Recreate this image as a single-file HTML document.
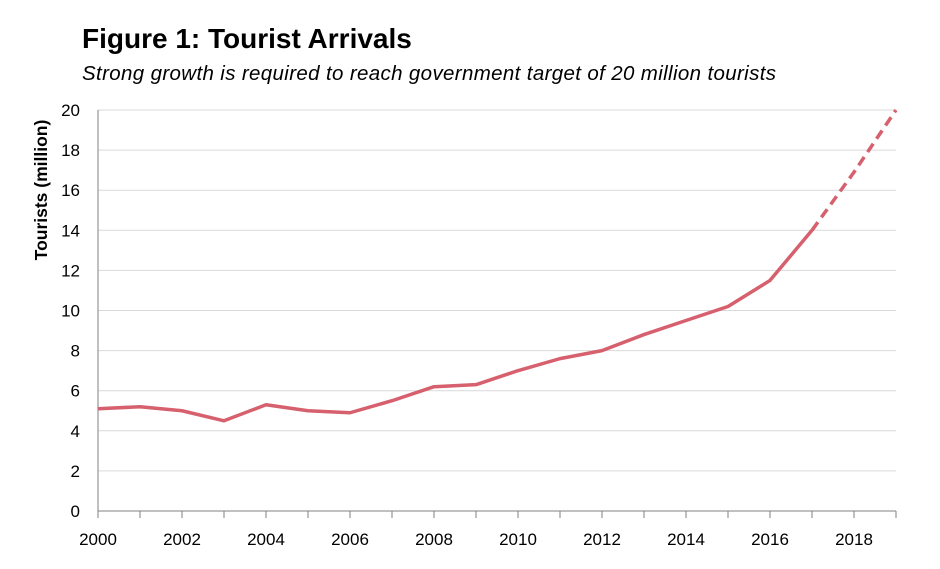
<!DOCTYPE html>
<html><head><meta charset="utf-8"><style>
body{margin:0;background:#fff;width:940px;height:564px;overflow:hidden;font-family:"Liberation Sans",sans-serif}
</style></head><body>
<svg width="940" height="564" xmlns="http://www.w3.org/2000/svg">
<text x="82" y="48" font-size="28" font-weight="bold" fill="#000">Figure 1: Tourist Arrivals</text>
<text x="82" y="80" font-size="20.5" font-style="italic" fill="#000" textLength="694" lengthAdjust="spacing">Strong growth is required to reach government target of 20 million tourists</text>
<text transform="translate(47,190) rotate(-90)" text-anchor="middle" font-size="17.5" font-weight="bold">Tourists (million)</text>
<g id="grid"></g><g id="axes"></g><g id="marks"></g>
</svg>
<script>
const years=[2000,2001,2002,2003,2004,2005,2006,2007,2008,2009,2010,2011,2012,2013,2014,2015,2016,2017];
const arrivals=[5.1,5.2,5.0,4.5,5.3,5.0,4.9,5.5,6.2,6.3,7.0,7.6,8.0,8.8,9.5,10.2,11.5,14.0];
const targetYears=[2017,2018,2019];
const targetValues=[14.0,16.9,20.0];
const yTicks=[0,2,4,6,8,10,12,14,16,18,20];
const xLabels=[2000,2002,2004,2006,2008,2010,2012,2014,2016,2018];
const NS="http://www.w3.org/2000/svg";
const x=v=>98+(v-2000)*42, y=v=>511-v*20.05;
function mk(t,a,p){const e=document.createElementNS(NS,t);for(const k in a)e.setAttribute(k,a[k]);p.appendChild(e);return e;}
const g=document.getElementById('grid'),ax=document.getElementById('axes'),m=document.getElementById('marks');
yTicks.forEach(v=>{
 if(v>0){const l=mk('line',{x1:98,x2:896,y1:y(v),y2:y(v),stroke:'#d9d9d9','stroke-width':1},g);
 
 }
 const t=mk('text',{x:80,y:y(v)+6,'text-anchor':'end','font-size':17,fill:'#000'},ax);t.textContent=v;
 
 
});
for(let yr=2000;yr<=2019;yr++){const l=mk('line',{x1:x(yr),x2:x(yr),y1:511,y2:518,stroke:'#808080'},ax);
 
 }
xLabels.forEach(yr=>{const t=mk('text',{x:x(yr),y:545,'text-anchor':'middle','font-size':17,fill:'#000'},ax);t.textContent=yr;
 
 });
const ya=mk('line',{x1:98,x2:98,y1:110,y2:511,stroke:'#808080'},ax);


const xa=mk('line',{x1:98,x2:896,y1:511,y2:511,stroke:'#808080'},ax);


const p1=mk('polyline',{points:years.map((yr,i)=>x(yr)+','+y(arrivals[i])).join(' '),fill:'none',stroke:'#d6606d','stroke-width':3.5,'stroke-linejoin':'round'},m);


const p2=mk('polyline',{points:targetYears.map((yr,i)=>x(yr)+','+y(targetValues[i])).join(' '),fill:'none',stroke:'#d6606d','stroke-width':3.5,'stroke-dasharray':'10 6'},m);


</script>
</body></html>
